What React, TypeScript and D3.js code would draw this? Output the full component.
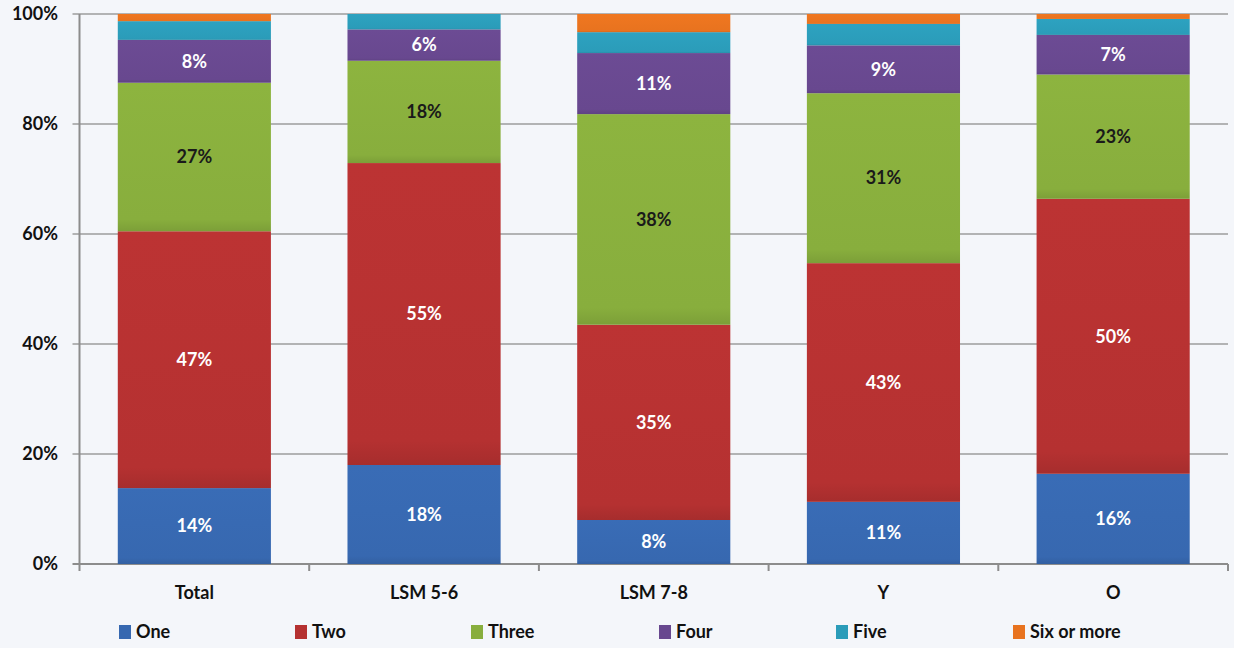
import React from "react";
import * as d3 from "d3";

const categories = ["Total", "LSM 5-6", "LSM 7-8", "Y", "O"];
const seriesNames = ["One", "Two", "Three", "Four", "Five", "Six or more"];
const one = [13.8, 18.0, 8.0, 11.3, 16.4];
const two = [46.7, 54.9, 35.5, 43.4, 50.0];
const three = [27.0, 18.6, 38.3, 30.9, 22.6];
const four = [7.8, 5.7, 11.1, 8.7, 7.2];
const five = [3.4, 2.8, 3.8, 3.9, 2.9];
const sixOrMore = [1.3, 0.0, 3.3, 1.8, 0.9];
const labelOne = ["14%", "18%", "8%", "11%", "16%"];
const labelTwo = ["47%", "55%", "35%", "43%", "50%"];
const labelThree = ["27%", "18%", "38%", "31%", "23%"];
const labelFour = ["8%", "6%", "11%", "9%", "7%"];
const yTicks = [0, 20, 40, 60, 80, 100];

const colors = ["#3768b0", "#b53131", "#88ae3d", "#68488f", "#2b9cb9", "#e8731f"];
const labelColors = ["#ffffff", "#ffffff", "#1a1a1a", "#ffffff", null, null];
const seriesValues = [one, two, three, four, five, sixOrMore];
const seriesLabels = [labelOne, labelTwo, labelThree, labelFour, null, null];

const W = 1234;
const H = 648;
const left = 79.5;
const right = 1228;
const top = 14;
const bottom = 564;
const FONT = "Lato, 'Open Sans', sans-serif";

export default function App() {
  const rows = categories.map((c, i) => {
    const r: any = { cat: c };
    seriesNames.forEach((s, k) => (r[s] = seriesValues[k][i]));
    return r;
  });
  const stacked = d3.stack().keys(seriesNames)(rows);
  const x = d3.scaleBand().domain(categories).range([left, right]).paddingInner(1 / 3).paddingOuter(1 / 6);
  const y = d3.scaleLinear().domain([0, 100]).range([bottom, top]);
  const step = x.step();
  const boundaries = d3.range(categories.length + 1).map((i) => left + i * step);
  const legendX = [119, 295, 471, 659, 836, 1013];

  return (
    <svg width={W} height={H} style={{ position: "fixed", left: 0, top: 0 }} fontFamily={FONT}>
      <defs>
        {colors.map((c, i) => (
          <linearGradient key={i} id={"g" + i} x1="0" y1="0" x2="0" y2="1">
            <stop offset="0" stopColor={d3.color(c)!.brighter(0.1).toString()} />
            <stop offset="0.92" stopColor={c} />
            <stop offset="1" stopColor={d3.color(c)!.darker(0.25).toString()} />
          </linearGradient>
        ))}
      </defs>
      <rect x={0} y={0} width={W} height={H} fill="#f4f6fa" />
      {yTicks.map((t) => (
        <g key={t}>
          <line x1={left - 7} x2={right} y1={y(t)} y2={y(t)} stroke={t === 0 ? "#8c8c8c" : "#9c9c9c"} strokeWidth={t === 0 ? 2 : 1.5} />
          <text x={58} y={y(t)} dy="0.35em" textAnchor="end" fontSize={18} fontWeight={700} fill="#111">
            {t + "%"}
          </text>
        </g>
      ))}
      <line x1={left} x2={left} y1={top} y2={bottom} stroke="#8c8c8c" strokeWidth={2} />
      {boundaries.map((b, i) => (
        <line key={i} x1={b} x2={b} y1={bottom} y2={bottom + 7} stroke="#8c8c8c" strokeWidth={2} />
      ))}
      {stacked.map((layer, k) => (
        <g key={k}>
          {layer.map((d, i) => (
            <rect
              key={i}
              x={x(categories[i])}
              width={x.bandwidth()}
              y={y(d[1])}
              height={Math.max(0, y(d[0]) - y(d[1]))}
              fill={`url(#g${k})`}
            />
          ))}
        </g>
      ))}
      {stacked.map((layer, k) =>
        seriesLabels[k]
          ? layer.map((d, i) => (
              <text
                key={k + "-" + i}
                x={x(categories[i])! + x.bandwidth() / 2}
                y={(y(d[0]) + y(d[1])) / 2}
                dy="0.35em"
                textAnchor="middle"
                fontSize={18}
                fontWeight={700}
                fill={labelColors[k]!}
              >
                {seriesLabels[k]![i]}
              </text>
            ))
          : null
      )}
      {categories.map((c) => (
        <text key={c} x={x(c)! + x.bandwidth() / 2} y={593} dy="0.35em" textAnchor="middle" fontSize={18} fontWeight={700} fill="#111">
          {c}
        </text>
      ))}
      {seriesNames.map((s, k) => (
        <g key={s}>
          <rect x={legendX[k]} y={625} width={12} height={14} fill={colors[k]} />
          <text x={legendX[k] + 17} y={632} dy="0.35em" fontSize={18} fontWeight={700} fill="#111">
            {s}
          </text>
        </g>
      ))}
    </svg>
  );
}
